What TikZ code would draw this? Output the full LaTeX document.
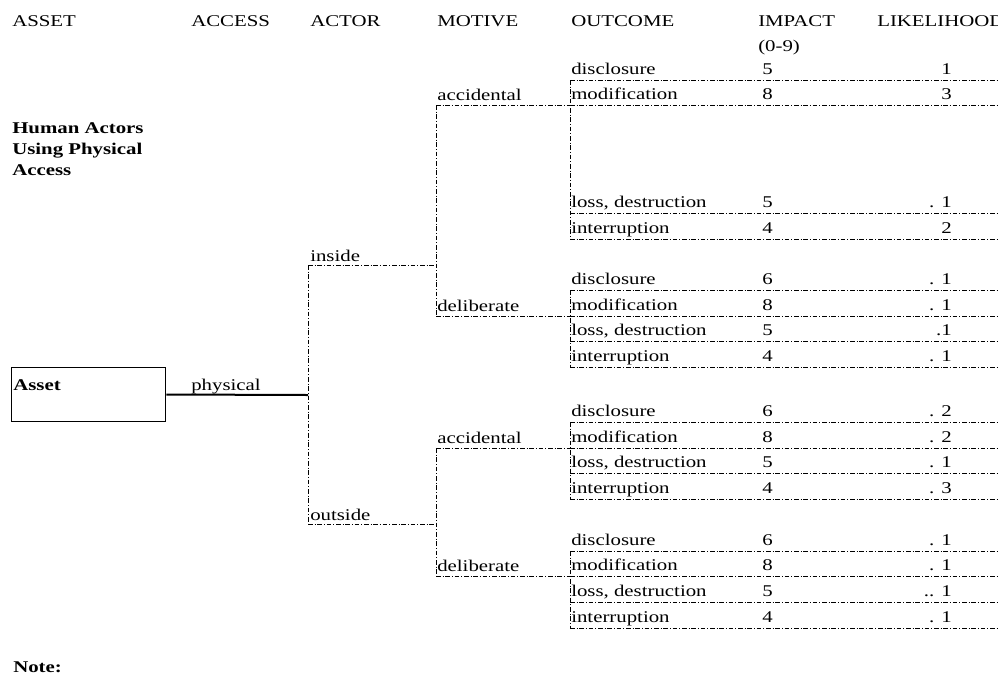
\documentclass[tikz,border=0pt]{standalone}
\usepackage{fontspec}
\setmainfont[FakeStretch=1.27]{Liberation Serif}
\begin{document}
\begin{tikzpicture}[x=0.75pt,y=-0.75pt,
  lbl/.style={inner sep=0pt,anchor=base west,font=\fontsize{12.3}{15}\selectfont},
  num/.style={inner sep=0pt,anchor=base east,font=\fontsize{12.3}{15}\selectfont},
  bld/.style={inner sep=0pt,anchor=base west,align=left,font=\fontsize{12.3}{15.75}\selectfont\bfseries},
  tline/.style={line width=0.6pt,dash pattern=on 3.5pt off 1.4pt on 0.7pt off 1.4pt},
]
  \useasboundingbox (0,0) rectangle (998,675);
  % column heads
  \foreach \x/\t [count=\i] in {12/ASSET,191/ACCESS,310/ACTOR,437/MOTIVE,571/OUTCOME,758/IMPACT,877/LIKELIHOOD}
    \node[lbl] (h\i) at (\x,26) {\t};
  \node[lbl] (h8) at (758,51) {(0-9)};
  \node[bld] (title) at (12,175) {Human Actors\\Using Physical\\Access};
  \node[bld] (note) at (13,672) {Note:};

  % asset and access
  \node[draw,line width=0.9pt,minimum width=116pt,minimum height=41pt,inner sep=0pt] (asset) at (88.5,394.5) {};
  \node[bld] (assettxt) at (13,390) {Asset};
  \node[lbl] (phys) at (191,390) {physical};
  \coordinate (acc) at (308,395);
  \draw[line width=1.5pt] (asset.east) -- (acc);

  % outcome rows
  \foreach \n/\y/\o/\i/\l in {1/80/disclosure/5/1, 2/105/modification/8/3,
      3/213/{loss, destruction}/5/{. 1}, 4/239/interruption/4/2,
      5/290/disclosure/6/{. 1}, 6/316/modification/8/{. 1},
      7/341/{loss, destruction}/5/.1, 8/367/interruption/4/{. 1},
      9/422/disclosure/6/{. 2}, 10/448/modification/8/{. 2},
      11/473/{loss, destruction}/5/{. 1}, 12/499/interruption/4/{. 3},
      13/551/disclosure/6/{. 1}, 14/576/modification/8/{. 1},
      15/602/{loss, destruction}/5/{.. 1}, 16/628/interruption/4/{. 1}} {
    \coordinate (w\n) at (570,\y);
    \coordinate (e\n) at (998,\y);
    \draw[tline] (w\n) -- (e\n);
    \node[lbl] (o\n) at (571,\y-5.5) {\o};
    \node[lbl] (i\n) at (762,\y-5.5) {\i};
    \node[num] (l\n) at (952,\y-5.5) {\l};
  }
  \foreach \a/\b in {1/4,5/8,9/12,13/16}
    \draw[tline] (w\a) -- (w\b);

  % actor
  \coordinate (ins) at (308,265);
  \coordinate (outs) at (308,524);
  \node[lbl] (tins) at (310,261) {inside};
  \node[lbl] (touts) at (310,520) {outside};
  \draw[tline] (ins) -- (outs);

  % motive
  \coordinate (mia) at (436,105);
  \coordinate (mid) at (436,316);
  \coordinate (moa) at (436,448);
  \coordinate (mod) at (436,576);
  \node[lbl] (tmia) at (437,100) {accidental};
  \node[lbl] (tmid) at (437,311) {deliberate};
  \node[lbl] (tmoa) at (437,443) {accidental};
  \node[lbl] (tmod) at (437,571) {deliberate};
  \draw[tline] (ins) -- (ins -| mia);
  \draw[tline] (outs) -- (outs -| moa);
  \draw[tline] (mia) -- (mid);
  \draw[tline] (moa) -- (mod);
  \foreach \m/\r in {mia/2,mid/6,moa/10,mod/14}
    \draw[tline] (\m) -- (w\r);
\end{tikzpicture}
\end{document}
